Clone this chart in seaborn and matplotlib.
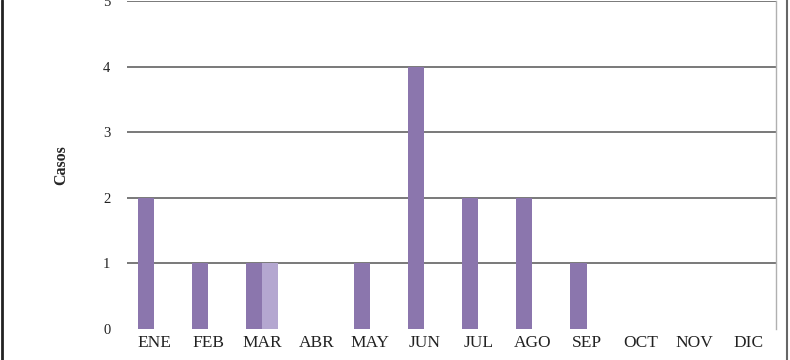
import pandas as pd
import seaborn as sns
import matplotlib.pyplot as plt
from matplotlib.lines import Line2D

meses = ['ENE', 'FEB', 'MAR', 'ABR', 'MAY', 'JUN', 'JUL', 'AGO', 'SEP', 'OCT', 'NOV', 'DIC']
serie_1 = [2, 1, 1, 0, 1, 4, 2, 2, 1, 0, 0, 0]
serie_2 = [0, 0, 1, 0, 0, 0, 0, 0, 0, 0, 0, 0]
series = ['Serie 1', 'Serie 2']

df = pd.DataFrame({
    'mes': meses * 2,
    'casos': serie_1 + serie_2,
    'serie': [series[0]] * 12 + [series[1]] * 12,
})

sns.set_theme(style='white')
plt.rcParams['font.family'] = ['Liberation Serif', 'DejaVu Serif']

fig = plt.figure(figsize=(7.9, 3.6), dpi=100)
ax = fig.add_axes([0.1608, 0.0861, 0.8212, 0.9111])

pal = ['#8b76ad', '#b4a7d0']
sns.barplot(data=df, x='mes', y='casos', hue='serie', order=meses, hue_order=series,
            palette=pal, width=0.6, saturation=1, legend=False, linewidth=0, ax=ax)

ax.set_ylim(0, 5)
ax.set_yticks(range(6))
for v in range(1, 6):
    ax.axhline(v, color='#555555', lw=1.1, zorder=0)
ax.set_xlim(-0.5, 11.5)

for s in ['top', 'left', 'bottom']:
    ax.spines[s].set_visible(False)
ax.spines['right'].set_color('#b0b0b0')
ax.spines['right'].set_linewidth(1)

ax.tick_params(axis='both', length=0, labelsize=12.5, colors='#222222')
ax.tick_params(axis='y', pad=12, labelsize=10.5)
ax.tick_params(axis='x', pad=4)
ax.set_xlabel('')
ax.set_ylabel('Casos', fontsize=11.5, fontweight='bold', labelpad=24)

fig.add_artist(Line2D([0.003, 0.003], [0, 1], color='#222222', lw=2, transform=fig.transFigure))
fig.add_artist(Line2D([0.996, 0.996], [0, 1], color='#666666', lw=1.5, transform=fig.transFigure))

plt.savefig('out.png', dpi=100)
